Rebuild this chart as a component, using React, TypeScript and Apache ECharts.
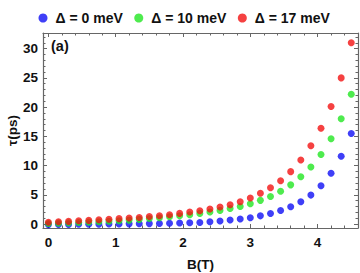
import React, { useEffect, useRef } from "react";
import * as echarts from "echarts";

const B = [0, 0.15, 0.3, 0.45, 0.6, 0.75, 0.9, 1.05, 1.2, 1.35, 1.5, 1.65, 1.8, 1.95, 2.1, 2.25, 2.4, 2.55, 2.7, 2.85, 3.0, 3.15, 3.3, 3.45, 3.6, 3.75, 3.9, 4.05, 4.2, 4.35, 4.5];

const tau0 = [-0.1, -0.08, -0.06, -0.05, -0.03, -0.02, 0, 0.01, 0.03, 0.05, 0.07, 0.1, 0.12, 0.17, 0.22, 0.27, 0.39, 0.51, 0.68, 0.86, 1.08, 1.4, 1.8, 2.3, 2.95, 3.8, 4.95, 6.55, 8.7, 11.6, 15.5];
const tau10 = [0.1, 0.15, 0.2, 0.27, 0.33, 0.4, 0.48, 0.57, 0.67, 0.8, 0.96, 1.08, 1.25, 1.42, 1.6, 1.82, 2.05, 2.33, 2.67, 3.0, 3.48, 4.05, 4.7, 5.6, 6.7, 8.1, 9.75, 11.9, 14.6, 18.0, 22.2];
const tau17 = [0.3, 0.38, 0.45, 0.55, 0.62, 0.72, 0.82, 0.92, 1.02, 1.13, 1.28, 1.42, 1.6, 1.82, 2.05, 2.28, 2.57, 2.91, 3.3, 3.82, 4.45, 5.25, 6.2, 7.4, 8.96, 10.96, 13.4, 16.4, 20.1, 25.0, 31.0];

const seriesNames = ["Δ = 0 meV", "Δ = 10 meV", "Δ = 17 meV"];
const seriesColors = ["#0f0ff5", "#22e622", "#f21111"];
const seriesData = [tau0, tau10, tau17];

const FONT = "Liberation Sans";

export default function App() {
  const ref = useRef<HTMLDivElement>(null);
  useEffect(() => {
    if (!ref.current) return;
    const chart = echarts.init(ref.current, null, { renderer: "svg" });
    const axisLine = { show: true, onZero: false, lineStyle: { color: "#666", width: 1.2 } };
    const intLabel = (v: number) => (Math.abs(v - Math.round(v)) < 1e-6 ? String(Math.round(v)) : "");
    const xBase = {
      type: "value",
      min: -0.08,
      max: 4.6,
      splitNumber: 5,
      splitLine: { show: false },
      axisLine,
      axisTick: { inside: true, length: 4, lineStyle: { color: "#666" } },
      minorTick: { show: true, splitNumber: 5, length: 2.5, lineStyle: { color: "#666" } },
    };
    const yBase = {
      type: "value",
      min: -0.68,
      max: 32.68,
      splitNumber: 6,
      splitLine: { show: false },
      axisLine,
      axisTick: { inside: true, length: 4, lineStyle: { color: "#666" } },
      minorTick: { show: true, splitNumber: 5, length: 2.5, lineStyle: { color: "#666" } },
    };
    chart.setOption({
      animation: false,
      textStyle: { fontFamily: FONT },
      legend: {
        top: 6,
        left: 33.5,
        itemGap: 11.5,
        itemWidth: 9,
        itemHeight: 9,
        icon: "circle",
        data: seriesNames,
        textStyle: { fontFamily: FONT, fontWeight: "bold", fontSize: 14, color: "#111", padding: [0, 0, 0, 3] },
      },
      grid: { left: 43, right: 2, top: 33, bottom: 45, containLabel: false, outerBoundsMode: "none" },
      xAxis: [
        {
          ...xBase,
          position: "bottom",
          name: "B(T)",
          nameLocation: "middle",
          nameGap: 29,
          nameMoveOverlap: false,
          nameTextStyle: { fontFamily: FONT, fontWeight: "bold", fontSize: 13.5, color: "#111" },
          axisLabel: {
            margin: 7,
            fontFamily: FONT,
            fontWeight: "bold",
            fontSize: 13.5,
            color: "#111",
            showMinLabel: false,
            showMaxLabel: false,
            formatter: intLabel,
          },
        },
        {
          ...xBase,
          position: "top",
          axisLabel: { show: false },
        },
      ],
      yAxis: [
        {
          ...yBase,
          position: "left",
          name: "τ(ps)",
          nameLocation: "middle",
          nameGap: 24,
          nameMoveOverlap: false,
          nameTextStyle: { fontFamily: FONT, fontWeight: "bold", fontSize: 13.5, color: "#111" },
          axisLabel: {
            margin: 5,
            fontFamily: FONT,
            fontWeight: "bold",
            fontSize: 13.5,
            color: "#111",
            showMinLabel: false,
            showMaxLabel: false,
            formatter: (v: number) => (Math.abs(v / 5 - Math.round(v / 5)) < 1e-6 ? String(Math.round(v)) : ""),
          },
        },
        {
          ...yBase,
          position: "right",
          axisLabel: { show: false },
        },
      ],
      graphic: [
        {
          type: "text",
          left: 51,
          top: 38,
          style: { text: "(a)", font: `bold 14.5px "${FONT}"`, fill: "#111" },
        },
      ],
      series: seriesNames.map((name, i) => ({
        name,
        type: "scatter",
        symbol: "circle",
        symbolSize: 7,
        itemStyle: { color: seriesColors[i] },
        data: B.map((b, j) => [b, seriesData[i][j]]),
        z: 2 + i,
      })),
    });
    return () => chart.dispose();
  }, []);
  return (
    <div
      ref={ref}
      style={{ position: "fixed", left: 0, top: 0, width: 360, height: 273, background: "#fff" }}
    />
  );
}
